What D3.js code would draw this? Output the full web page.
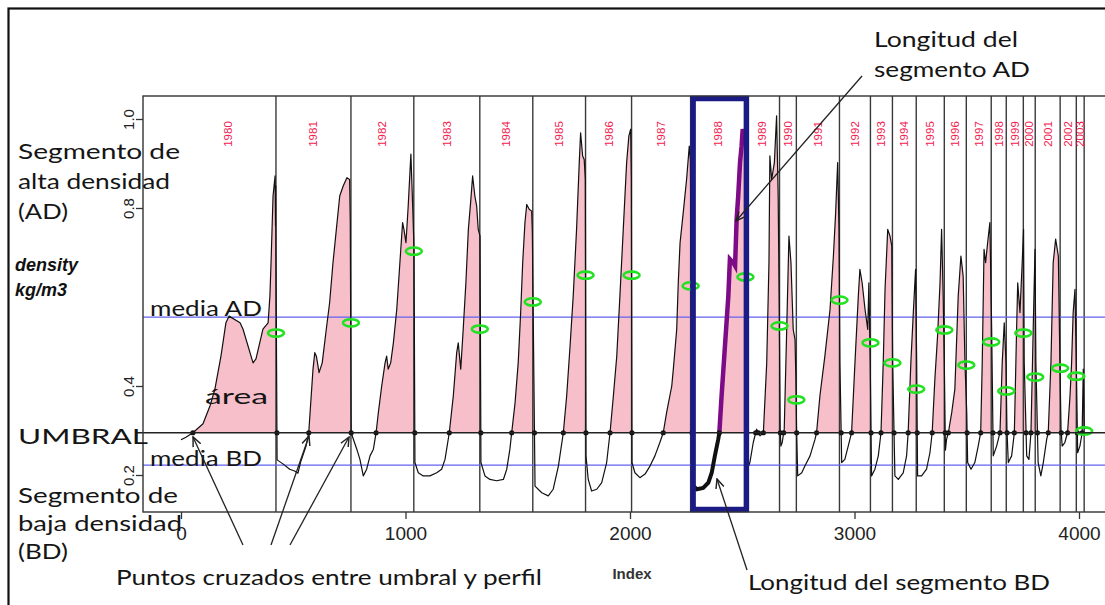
<!DOCTYPE html>
<html><head><meta charset="utf-8">
<script src="https://cdn.jsdelivr.net/npm/d3@7"></script>
<style>
body{margin:0;background:#fff}
svg{display:block;background:#fff}
.ann{font-family:Lato,"Open Sans",sans-serif;fill:#151515}
</style>
</head><body>
<svg id="chart" width="1105" height="605"></svg>
<script>
// Tree-ring density profile: rings, their limits and mean high-density values
const years = [1980,1981,1982,1983,1984,1985,1986,1987,1988,1989,1990,1991,
               1992,1993,1994,1995,1996,1997,1998,1999,2000,2001,2002,2003];
const ringEnds = [423,757,1037,1331,1567,1802,2007,2270,2514,2666,2741,2933,
                  3071,3169,3275,3400,3498,3609,3676,3752,3805,3916,3988,4023];
const ringMeanAD = [0.519,0.542,0.703,0.528,0.589,0.649,0.649,0.625,0.645,0.535,0.369,0.593,
                    0.497,0.452,0.393,0.526,0.447,0.499,0.389,0.519,0.420,0.440,0.422,0.299];
const umbral = 0.295;   // threshold between low and high density
const mediaAD = 0.555;  // mean of high-density segments
const mediaBD = 0.222;  // mean of low-density segments
const highlightYear = 1988;
const xTicks = [0,1000,2000,3000,4000];
const yTicks = [0.2,0.4,0.6,0.8,1.0];
const yTickLabels = ["0.2","0.4","","0.8","1.0"];

// [index, density]
const profile = [
 [0,.279],[22,.285],[53,.295],[98,.315],[129,.355],[151,.393],[178,.467],[200,.542],[214,.557],[263,.542],
 [276,.528],[321,.452],[334,.461],[365,.528],[388,.542],[396,.602],[401,.676],[410,.827],[419,.872],[421,.76],
 [422,.85],[423,.70],[428,.234],
 [454,.225],[484,.213],[506,.209],[521,.204],[534,.231],[557,.265],[569,.295],[580,.378],[588,.438],[596,.475],
 [603,.467],[615,.430],[629,.452],[647,.527],[662,.587],[677,.677],[692,.752],[707,.827],[722,.849],[739,.868],
 [751,.864],[754,.767],[758,.295],
 [783,.258],[797,.235],[812,.198],[827,.213],[842,.243],[857,.258],[869,.295],[879,.340],[894,.400],[909,.452],
 [916,.467],[923,.438],[934,.452],[946,.497],[961,.572],[975,.677],[987,.767],[993,.752],[1002,.722],[1012,.804],
 [1024,.921],[1032,.804],[1038,.707],
 [1042,.228],[1057,.205],[1079,.198],[1109,.198],[1139,.205],[1161,.213],[1176,.235],[1195,.295],[1213,.378],
 [1228,.475],[1235,.497],[1246,.438],[1257,.527],[1269,.632],[1280,.752],[1290,.812],[1299,.872],[1309,.827],
 [1317,.804],[1324,.752],[1332,.737],
 [1336,.228],[1354,.198],[1376,.190],[1406,.187],[1436,.190],[1451,.213],[1465,.258],[1473,.295],[1488,.362],
 [1502,.452],[1513,.565],[1522,.677],[1532,.767],[1540,.808],[1551,.797],[1562,.793],[1565,.745],
 [1577,.175],[1607,.160],[1636,.153],[1658,.168],[1681,.220],[1703,.295],[1718,.378],[1733,.490],[1747,.602],
 [1762,.752],[1774,.902],[1780,.969],[1789,.917],[1796,.909],[1801,.864],
 [1804,.243],[1814,.190],[1829,.164],[1852,.168],[1874,.183],[1896,.228],[1911,.295],[1926,.378],[1941,.467],
 [1955,.602],[1970,.752],[1985,.902],[1995,.962],[2003,.977],[2006,.864],
 [2009,.228],[2022,.205],[2044,.194],[2067,.202],[2089,.220],[2111,.243],[2133,.273],[2148,.295],[2163,.340],
 [2186,.400],[2193,.438],[2208,.527],[2215,.632],[2223,.722],[2237,.789],[2252,.864],[2264,.939],[2269,.908],
 [2278,.178],[2297,.168],[2326,.171],[2349,.183],[2364,.205],[2378,.243],[2393,.280],[2398,.295],[2408,.378],
 [2423,.490],[2438,.602],[2445,.685],[2460,.677],[2468,.670],[2475,.775],[2482,.827],[2490,.902],[2497,.939],
 [2502,.977],[2512,.953],
 [2521,.211],[2534,.228],[2549,.273],[2564,.303],[2579,.288],[2594,.295],[2609,.452],[2619,.677],[2623,.917],
 [2631,.864],[2643,.902],[2653,1.007],[2660,.827],[2665,.565],[2669,.303],
 [2672,.265],[2678,.273],[2687,.303],[2698,.527],[2708,.737],[2717,.677],[2727,.527],[2735,.505],[2739,.415],
 [2742,.303],
 [2747,.198],[2765,.205],[2779,.220],[2802,.243],[2824,.280],[2831,.295],[2846,.378],[2868,.467],[2891,.572],
 [2906,.692],[2916,.789],[2925,.902],[2931,.752],[2935,.452],
 [2943,.228],[2957,.235],[2972,.265],[2987,.295],[3002,.452],[3017,.602],[3024,.662],[3034,.632],[3047,.572],
 [3059,.527],[3064,.632],[3070,.452],
 [3076,.198],[3091,.213],[3106,.243],[3118,.295],[3128,.452],[3136,.617],[3148,.752],[3158,.737],[3166,.715],
 [3170,.452],
 [3180,.198],[3195,.190],[3217,.205],[3232,.243],[3239,.295],[3251,.452],[3262,.565],[3272,.662],[3277,.452],
 [3281,.198],[3299,.198],[3321,.213],[3336,.250],[3346,.295],[3358,.415],[3370,.512],[3381,.632],[3388,.752],
 [3395,.602],[3400,.452],
 [3405,.256],[3410,.280],[3418,.295],[3433,.340],[3447,.393],[3462,.602],[3474,.692],[3484,.647],[3492,.452],
 [3500,.340],
 [3504,.228],[3519,.213],[3536,.228],[3551,.265],[3562,.295],[3569,.452],[3577,.707],[3584,.677],[3593,.722],
 [3603,.767],[3611,.527],
 [3618,.243],[3633,.265],[3648,.295],[3658,.452],[3667,.542],[3675,.452],[3679,.303],
 [3685,.228],[3700,.243],[3712,.295],[3722,.527],[3727,.632],[3737,.565],[3747,.677],[3753,.752],[3756,.452],
 [3767,.243],[3777,.235],[3786,.295],[3796,.527],[3804,.707],[3808,.452],
 [3818,.228],[3830,.198],[3841,.228],[3856,.280],[3863,.295],[3875,.452],[3885,.677],[3896,.730],[3908,.692],
 [3915,.452],[3920,.303],
 [3925,.265],[3937,.273],[3949,.295],[3960,.378],[3967,.452],[3974,.565],[3982,.617],[3988,.452],
 [3994,.250],[4004,.265],[4014,.295],[4019,.438],[4023,.303]
];

const svg = d3.select("#chart");
const box = {left:143, top:96, right:1112, bottom:512};
const x = d3.scaleLinear().domain([0,4000]).range([181,1079]);
const y = d3.scaleLinear().domain([0.2,1.0]).range([475,119]);

// outer frame
svg.append("rect").attr("x",8.5).attr("y",8.5).attr("width",1110).attr("height",610)
  .attr("fill","none").attr("stroke","#111").attr("stroke-width",2.2);

const plot = svg.append("g");
svg.append("clipPath").attr("id","plotclip").append("rect")
  .attr("x",box.left).attr("y",box.top).attr("width",box.right-box.left).attr("height",box.bottom-box.top);

// threshold crossings (exact points where the profile meets the threshold)
const crossings = [];
for (let i=0;i<profile.length-1;i++){
  const [xa,va]=profile[i], [xb,vb]=profile[i+1];
  const da=va-umbral, db=vb-umbral;
  if (da===0) crossings.push(xa);
  else if (da*db<0) crossings.push(xa+(xb-xa)*da/(da-db));
}
const crossPts = crossings.filter((c,i,a)=> i===0 || c-a[i-1] > 3);

// profile with crossing points inserted, for the filled area
const areaPts = [];
for (let i=0;i<profile.length;i++){
  areaPts.push(profile[i]);
  if (i<profile.length-1){
    const [xa,va]=profile[i], [xb,vb]=profile[i+1];
    const da=va-umbral, db=vb-umbral;
    if (da*db<0) areaPts.push([xa+(xb-xa)*da/(da-db), umbral]);
  }
}

const g = plot.append("g").attr("clip-path","url(#plotclip)");

// pink area above the threshold
g.append("path").datum(areaPts)
  .attr("d", d3.area().x(d=>x(d[0])).y0(y(umbral)).y1(d=>y(Math.max(d[1],umbral))))
  .attr("fill","#f7bfca").attr("stroke","none");

// ring limits
g.selectAll("line.ring").data(ringEnds).join("line").attr("class","ring")
  .attr("x1",d=>x(d)).attr("x2",d=>x(d)).attr("y1",box.top).attr("y2",box.bottom)
  .attr("stroke","#3a3a3a").attr("stroke-width",1.4);

// mean lines and threshold
g.selectAll("line.mean").data([mediaAD,mediaBD]).join("line").attr("class","mean")
  .attr("x1",box.left).attr("x2",box.right).attr("y1",d=>y(d)).attr("y2",d=>y(d))
  .attr("stroke","#6262f2").attr("stroke-width",1.3);
svg.append("line").attr("x1",137).attr("x2",box.right).attr("y1",y(umbral)).attr("y2",y(umbral))
  .attr("stroke","#222").attr("stroke-width",1.3);

// profile line
g.append("path").datum(profile)
  .attr("d", d3.line().x(d=>x(d[0])).y(d=>y(d[1])))
  .attr("fill","none").attr("stroke","#111").attr("stroke-width",1.2).attr("stroke-linejoin","round");

// highlighted ring: low-density and high-density segments
const hi = years.indexOf(highlightYear);
const r0 = ringEnds[hi-1], r1 = ringEnds[hi];
const ringPts = profile.filter(d=>d[0]>r0 && d[0]<=r1);
const firstUp = ringPts.findIndex(d=>d[1]>=umbral);
g.append("path").datum(ringPts.slice(0,firstUp+1))
  .attr("d", d3.line().x(d=>x(d[0])).y(d=>y(d[1])))
  .attr("fill","none").attr("stroke","#111").attr("stroke-width",4);
g.append("path").datum(ringPts.slice(firstUp))
  .attr("d", d3.line().x(d=>x(d[0])).y(d=>y(d[1])))
  .attr("fill","none").attr("stroke","#7d0a86").attr("stroke-width",4.5);

// crossing dots
g.selectAll("circle.cross").data(crossPts).join("circle").attr("class","cross")
  .attr("cx",d=>x(d)).attr("cy",y(umbral)).attr("r",2.6).attr("fill","#111");

// mean high-density value of every ring
g.selectAll("ellipse.mean").data(ringEnds).join("ellipse").attr("class","mean")
  .attr("cx",d=>x(d)).attr("cy",(d,i)=>y(ringMeanAD[i])).attr("rx",8).attr("ry",3.6)
  .attr("fill","none").attr("stroke","#22e022").attr("stroke-width",2.6);

// year labels at ring centres
g.selectAll("text.year").data(years).join("text").attr("class","year")
  .attr("transform",(d,i)=>{const s=i===0?0:ringEnds[i-1]; return `translate(${x((s+ringEnds[i])/2)},134) rotate(-90)`;})
  .attr("text-anchor","middle").attr("dominant-baseline","central")
  .attr("font-family","Liberation Sans Narrow, Liberation Sans, Arial, sans-serif").attr("font-size",11.5)
  .attr("fill","#f2204e").text(d=>d);

// highlighted ring frame
svg.append("rect").attr("x",x(r0)+2.5).attr("y",98.5).attr("width",x(r1)-x(r0)-1.5).attr("height",411)
  .attr("fill","none").attr("stroke","#1b1b86").attr("stroke-width",5.5);

// plot box
svg.append("rect").attr("x",box.left).attr("y",box.top).attr("width",box.right-box.left).attr("height",box.bottom-box.top)
  .attr("fill","none").attr("stroke","#333").attr("stroke-width",1.4);

// axes
const ax = svg.append("g").attr("transform",`translate(0,${box.bottom})`)
  .call(d3.axisBottom(x).tickValues(xTicks).tickSize(7).tickFormat(d3.format("d")));
ax.select(".domain").remove();
ax.selectAll("line").attr("stroke","#333").attr("stroke-width",1.3);
ax.selectAll("text").attr("y",15).attr("font-size",19).attr("font-family","Liberation Sans, Arial, sans-serif").attr("fill","#222");

const ay = svg.append("g").attr("transform",`translate(${box.left},0)`)
  .call(d3.axisLeft(y).tickValues(yTicks.filter((d,i)=>yTickLabels[i]!=="")).tickSize(7)
        .tickFormat(d=>yTickLabels[yTicks.indexOf(d)]));
ay.select(".domain").remove();
ay.selectAll("line").attr("stroke","#333").attr("stroke-width",1.3);
ay.selectAll("text").attr("x",0).attr("dy",0).attr("text-anchor","middle")
  .attr("transform","translate(-9,0) rotate(-90)")
  .attr("font-size",15).attr("font-family","Liberation Sans, Arial, sans-serif").attr("fill","#222");

// annotations
const notes = [
  {t:"Longitud del", x:874, y:38, w:144},
  {t:"segmento AD", x:874, y:68, w:156},
  {t:"Segmento  de", x:18, y:150, w:162},
  {t:"alta densidad", x:18, y:180, w:152},
  {t:"(AD)", x:18, y:210, w:50},
  {t:"media AD", x:150, y:307, w:112},
  {t:"área", x:205, y:395, w:63},
  {t:"UMBRAL", x:18, y:435, w:130},
  {t:"media BD", x:150, y:457, w:112},
  {t:"Segmento de", x:18, y:494, w:160},
  {t:"baja densidad", x:18, y:522, w:164},
  {t:"(BD)", x:18, y:550, w:50},
  {t:"Puntos cruzados entre umbral y perfil", x:116, y:576, w:426},
  {t:"Longitud del segmento BD", x:748, y:581, w:302}
];
svg.selectAll("text.ann").data(notes).join("text").attr("class","ann")
  .attr("x",d=>d.x).attr("y",d=>d.y).attr("dominant-baseline","central")
  .attr("font-size",22).attr("textLength",d=>d.w).attr("lengthAdjust","spacingAndGlyphs")
  .text(d=>d.t);

svg.append("text").attr("x",15).attr("y",265).attr("dominant-baseline","central")
  .attr("font-family","Liberation Sans, Arial, sans-serif").attr("font-weight","bold").attr("font-style","italic")
  .attr("font-size",18).attr("fill","#111").text("density");
svg.append("text").attr("x",15).attr("y",290).attr("dominant-baseline","central")
  .attr("font-family","Liberation Sans, Arial, sans-serif").attr("font-weight","bold").attr("font-style","italic")
  .attr("font-size",18).attr("fill","#111").text("kg/m3");
svg.append("text").attr("x",632).attr("y",573).attr("text-anchor","middle").attr("dominant-baseline","central")
  .attr("font-family","Liberation Sans, Arial, sans-serif").attr("font-size",15).attr("font-weight","bold")
  .attr("fill","#333").text("Index");

// pointer lines
const defs = svg.append("defs");
defs.append("marker").attr("id","ah").attr("viewBox","0 0 10 10").attr("refX",9).attr("refY",5)
  .attr("markerWidth",8).attr("markerHeight",8).attr("orient","auto")
  .append("path").attr("d","M0,1 L9,5 L0,9").attr("fill","none").attr("stroke","#222").attr("stroke-width",1.4);
const pointers = [
  [862,76,736,221],
  [747,570,717,479],
  [243,545,193,437],
  [271,545,309,436],
  [290,545,349,437]
];
svg.selectAll("line.ptr").data(pointers).join("line").attr("class","ptr")
  .attr("x1",d=>d[0]).attr("y1",d=>d[1]).attr("x2",d=>d[2]).attr("y2",d=>d[3])
  .attr("stroke","#222").attr("stroke-width",1.3).attr("marker-end","url(#ah)");
</script>
</body></html>
